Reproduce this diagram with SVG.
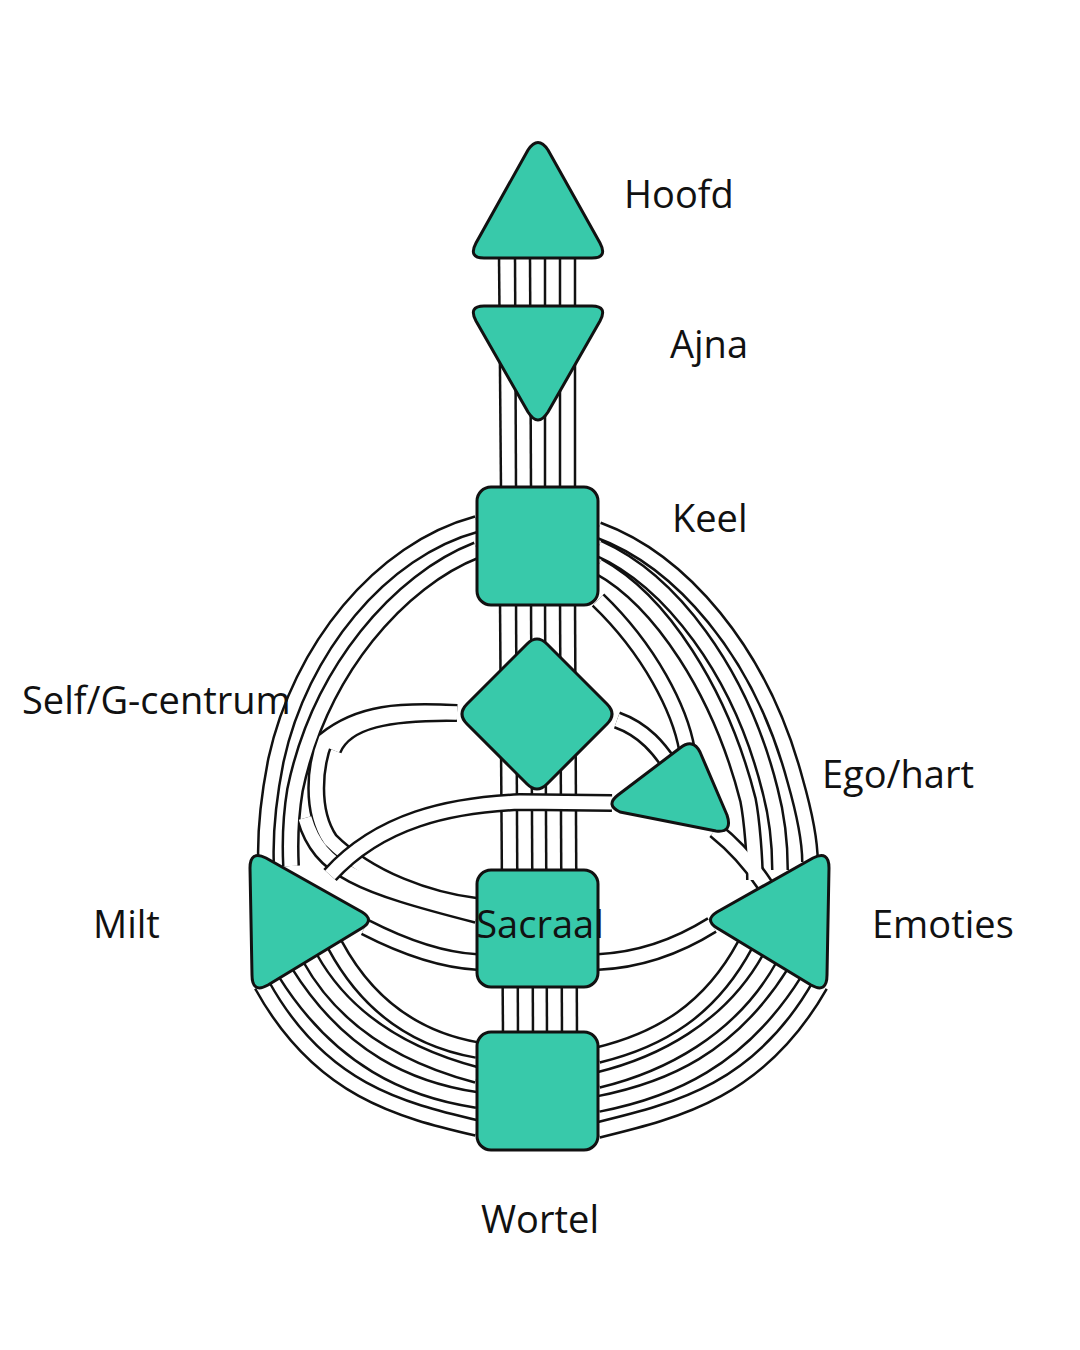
<svg xmlns="http://www.w3.org/2000/svg" width="1080" height="1350" viewBox="0 0 1080 1350">
<style>
.cb{fill:none;stroke:#111;stroke-width:18}
.cw{fill:none;stroke:#fff;stroke-width:13}
.vl{stroke:#111;stroke-width:2.5}
.n{fill:#38c9aa;stroke:#111;stroke-width:3;stroke-linejoin:round}
.t{font-family:"Open Sans","Liberation Sans",sans-serif;font-size:38px;fill:#111}
</style>
<defs>
<path id="k1" d="M477,524 C380,550 300,650 276,760 C268,800 265,830 266,862"/>
<path id="k2" d="M477,550 C400,580 320,670 295,790 C290,820 290,845 291,866"/>
<path id="g1" d="M457,713 C400,710 360,712 325,740 C315,765 310,810 330,840 C370,880 430,900 477,906"/>
<path id="gm" d="M457,713 C390,712 345,720 333,750"/>
<path id="ms" d="M305,818 C320,870 360,885 477,915"/>
<path id="me" d="M330,875 C380,820 450,805 520,802 L612,803"/>
<path id="msac" d="M365,927 C400,945 440,960 477,962"/>
<path id="sace" d="M598,962 C640,960 680,945 712,925"/>
<path id="ge" d="M617,720 C645,730 660,750 670,765"/>
<path id="ke" d="M598,600 C650,650 680,710 687,750"/>
<path id="kem1" d="M598,530 C680,560 760,650 795,780 C805,815 810,845 810,862"/>
<path id="kem2" d="M598,548 C670,580 740,670 770,790 C778,820 780,845 780,870"/>
<path id="kem3" d="M598,566 C660,600 720,690 748,800 C752,820 755,860 755,880"/>
<path id="eem" d="M715,830 C740,850 755,870 765,885"/>
<path id="mw1" d="M262,985 C320,1090 400,1110 477,1128"/>
<path id="mw2" d="M285,972 C340,1060 410,1090 477,1100"/>
<path id="mw3" d="M310,958 C350,1030 420,1060 477,1075"/>
<path id="mw4" d="M335,945 C370,1010 420,1040 477,1050"/>
<path id="ew1" d="M820,985 C760,1090 680,1110 598,1130"/>
<path id="ew2" d="M795,972 C740,1060 670,1090 598,1104"/>
<path id="ew3" d="M770,958 C730,1030 660,1065 598,1080"/>
<path id="ew4" d="M745,945 C710,1010 660,1040 598,1055"/>
</defs>
<g id="connectors">
<g class="cb"><use href="#k1"/><use href="#k2"/><use href="#g1"/><use href="#gm"/><use href="#ms"/><use href="#msac"/><use href="#sace"/><use href="#ge"/><use href="#ke"/><use href="#kem1"/><use href="#kem2"/><use href="#kem3"/><use href="#eem"/><use href="#mw1"/><use href="#mw2"/><use href="#mw3"/><use href="#mw4"/><use href="#ew1"/><use href="#ew2"/><use href="#ew3"/><use href="#ew4"/></g>
<g class="cw"><use href="#k1"/><use href="#k2"/><use href="#g1"/><use href="#gm"/><use href="#ms"/><use href="#msac"/><use href="#sace"/><use href="#ge"/><use href="#ke"/><use href="#kem1"/><use href="#kem2"/><use href="#kem3"/><use href="#eem"/><use href="#mw1"/><use href="#mw2"/><use href="#mw3"/><use href="#mw4"/><use href="#ew1"/><use href="#ew2"/><use href="#ew3"/><use href="#ew4"/></g>
<rect x="500" y="255" width="75" height="855" fill="#fff"/>
<g class="vl">
<line x1="499" y1="255" x2="501" y2="490"/><line x1="515" y1="255" x2="516" y2="490"/><line x1="530" y1="255" x2="531" y2="490"/><line x1="545" y1="255" x2="545" y2="490"/><line x1="560" y1="255" x2="560" y2="490"/><line x1="575" y1="255" x2="575" y2="490"/>
<line x1="500" y1="600" x2="503" y2="1035"/><line x1="516" y1="600" x2="518" y2="1035"/><line x1="531" y1="600" x2="533" y2="1035"/><line x1="545" y1="600" x2="547" y2="1035"/><line x1="560" y1="600" x2="562" y2="1035"/><line x1="575" y1="600" x2="577" y2="1035"/>
</g>
<g class="cb"><use href="#me"/></g><g class="cw"><use href="#me"/></g>
</g>
<g id="hoofd"><path class="n" d="M528,150 Q538,135 548,150 L600,243 Q608,258 592,258 L484,258 Q468,258 476,243 Z"/></g>
<g id="ajna"><path class="n" d="M484,306 L592,306 Q608,306 600,321 L548,412 Q538,428 528,412 L476,321 Q468,306 484,306 Z"/></g>
<g id="keel"><rect class="n" x="477" y="487" width="121" height="118" rx="14"/></g>
<g id="g"><path class="n" d="M527,644 Q537,634 547,644 L607,704 Q617,714 607,724 L547,784 Q537,794 527,784 L467,724 Q457,714 467,704 Z"/></g>
<g id="ego"><path class="n" d="M620,812 Q605,805 618,795 L680,748 Q693,738 700,752 L727,815 Q733,833 716,831 Z"/></g>
<g id="milt"><path class="n" d="M250,868 Q250,850 266,858 L362,912 Q375,920 362,928 L268,985 Q252,994 252,975 Z"/></g>
<g id="emoties"><path class="n" d="M829,868 Q829,850 813,858 L717,912 Q704,920 717,928 L811,985 Q827,994 827,975 Z"/></g>
<g id="sacraal"><rect class="n" x="477" y="870" width="121" height="117" rx="14"/></g>
<g id="wortel"><rect class="n" x="477" y="1032" width="121" height="118" rx="14"/></g>
<g id="labels">
<text class="t" x="624" y="208">Hoofd</text>
<text class="t" x="670" y="358">Ajna</text>
<text class="t" x="672" y="532">Keel</text>
<text class="t" x="22" y="714">Self/G-centrum</text>
<text class="t" x="822" y="788">Ego/hart</text>
<text class="t" x="93" y="938">Milt</text>
<text class="t" x="872" y="938">Emoties</text>
<text class="t" x="540" y="938" text-anchor="middle">Sacraal</text>
<text class="t" x="540" y="1233" text-anchor="middle">Wortel</text>
</g>
</svg>
